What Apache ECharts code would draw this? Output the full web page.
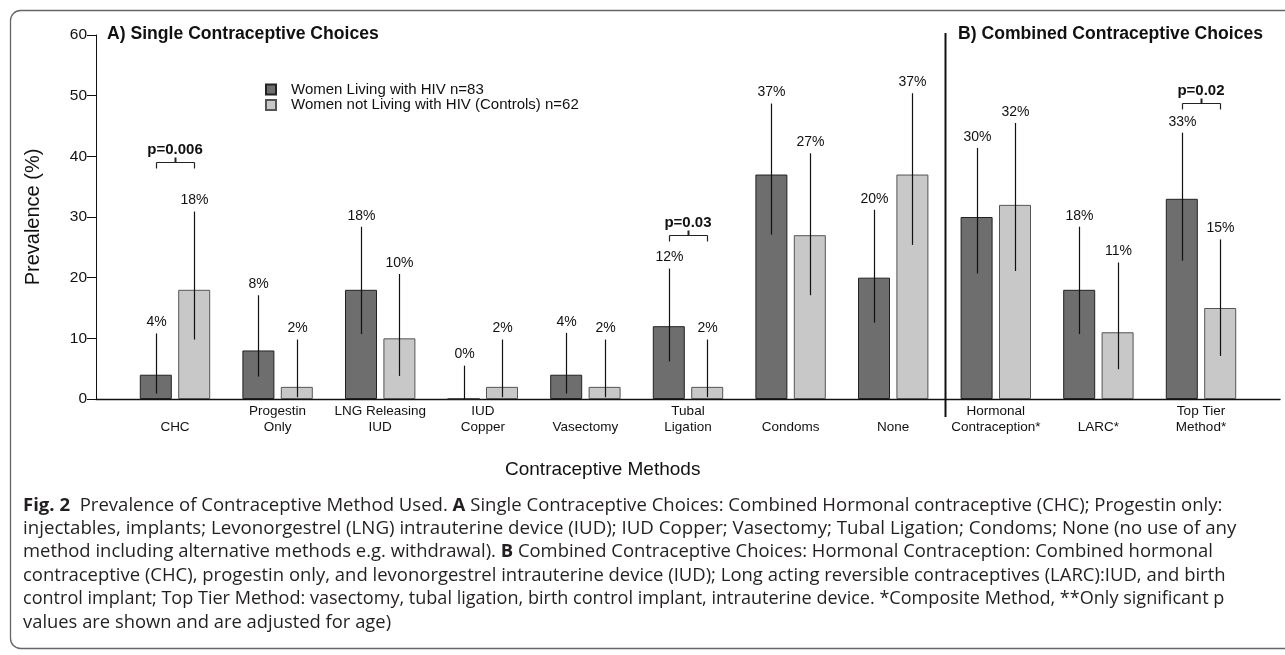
<!DOCTYPE html>
<html><head><meta charset="utf-8">
<script src="https://cdn.jsdelivr.net/npm/echarts@6/dist/echarts.min.js"></script>
<style>html,body{margin:0;padding:0;background:#fff}#c{width:1285px;height:655px}</style>
</head><body><div id="c"></div>
<script>
// ---------------- data ----------------
const categories = ['CHC', 'Progestin\nOnly', 'LNG Releasing\nIUD', 'IUD\nCopper', 'Vasectomy', 'Tubal\nLigation',
  'Condoms', 'None', 'Hormonal\nContraception*', 'LARC*', 'Top Tier\nMethod*'];
const hivName = 'Women Living with HIV n=83';
const ctrlName = 'Women not Living with HIV (Controls) n=62';
const hivValues = [4, 8, 18, 0, 4, 12, 37, 20, 30, 18, 33];
const hivLower  = [0.9, 3.7, 10.7, 0, 0.9, 6.2, 27.1, 12.6, 20.7, 10.7, 22.8];
const hivUpper  = [10.8, 17.1, 28.4, 5.5, 10.9, 21.5, 48.7, 31.2, 41.4, 28.4, 43.9];
const ctrlValues = [18, 2, 10, 2, 2, 2, 27, 37, 32, 11, 15];
const ctrlLower  = [9.8, 0.3, 3.8, 0.3, 0.3, 0.3, 17.1, 25.4, 21.1, 4.9, 7.1];
const ctrlUpper  = [30.9, 9.8, 20.6, 9.8, 9.8, 9.8, 40.5, 50.4, 45.5, 22.5, 26.3];
const yTicks = [0, 10, 20, 30, 40, 50, 60];
const pCategories = [0, 5, 10];
const pLabels = ['p=0.006', 'p=0.03', 'p=0.02'];
const pLevels = [39.0, 27.0, 48.8];
const panelSplit = [7, 8]; // divider between these categories
const panelTitles = ['A) Single Contraceptive Choices', 'B) Combined Contraceptive Choices'];
const xTitle = 'Contraceptive Methods';
const yTitle = 'Prevalence (%)';
const captionLines = [
  '{b|Fig. 2}  Prevalence of Contraceptive Method Used. {b|A} Single Contraceptive Choices: Combined Hormonal contraceptive (CHC); Progestin only:',
  'injectables, implants; Levonorgestrel (LNG) intrauterine device (IUD); IUD Copper; Vasectomy; Tubal Ligation; Condoms; None (no use of any',
  'method including alternative methods e.g. withdrawal). {b|B} Combined Contraceptive Choices: Hormonal Contraception: Combined hormonal',
  'contraceptive (CHC), progestin only, and levonorgestrel intrauterine device (IUD); Long acting reversible contraceptives (LARC):IUD, and birth',
  'control implant; Top Tier Method: vasectomy, tubal ligation, birth control implant, intrauterine device. *Composite Method, **Only significant p',
  'values are shown and are adjusted for age)'
];

// ---------------- style ----------------
const FONT = '"Liberation Sans", Arial, Helvetica, sans-serif';
const CAP_FONT = '"Open Sans", "Noto Sans", sans-serif';
const CAP_SCALE = [1.06, 1.068, 1.053, 1.056, 1.032, 1.05];
const CAP_TOP = 494, CAP_LH = 23.4;
const BAR_W = 32, BAR_GAP = 0.2;
const HALF = BAR_W * (1 + BAR_GAP) / 2;
const DARK = '#6e6e6e', LIGHT = '#c8c8c8';

const chart = echarts.init(document.getElementById('c'), null, {renderer: 'canvas'});

function errRender(offset) {
  return function (params, api) {
    const i = api.value(0);
    const lo = api.coord([i, api.value(1)]);
    const hi = api.coord([i, api.value(2)]);
    const x = Math.round(lo[0] + offset) + 0.5;
    return {
      type: 'group',
      children: [
        {type: 'line', shape: {x1: x, y1: lo[1], x2: x, y2: hi[1]}, style: {stroke: '#111', lineWidth: 1.2}},
        {type: 'text', style: {text: api.value(3) + '%', x: x, y: hi[1] - 11, align: 'center', verticalAlign: 'middle',
          fontSize: 14, fontFamily: FONT, fill: '#111'}}
      ]
    };
  };
}

const captionGraphics = captionLines.map((t, k) => ({
  type: 'text', x: 23, y: CAP_TOP + k * CAP_LH, scaleX: CAP_SCALE[k], silent: true,
  style: {text: t, x: 0, y: 0, fontSize: 17.5, fontFamily: CAP_FONT, lineHeight: CAP_LH, fill: '#231f20',
    rich: {b: {fontWeight: 'bold', fontSize: 17.5, fontFamily: CAP_FONT, lineHeight: CAP_LH}}}
}));

const option = {
  animation: false,
  backgroundColor: '#fff',
  textStyle: {fontFamily: FONT},
  title: [
    {text: panelTitles[0], left: 107, top: 25, textStyle: {fontSize: 17.6, fontWeight: 'bold', color: '#111', fontFamily: FONT}, padding: 0},
    {text: panelTitles[1], left: 958, top: 25, textStyle: {fontSize: 17.6, fontWeight: 'bold', color: '#111', fontFamily: FONT}, padding: 0},
    {text: xTitle, left: 505, top: 460, textStyle: {fontSize: 19, fontWeight: 'normal', color: '#111', fontFamily: FONT}, padding: 0}
  ],
  legend: {
    orient: 'vertical', left: 265, top: 82, padding: 0, itemGap: 0.5, itemWidth: 10, itemHeight: 10, icon: 'rect',
    data: [hivName, ctrlName],
    textStyle: {fontSize: 15, color: '#111', fontFamily: FONT, lineHeight: 14, padding: [0, 0, 0, 10]}
  },
  grid: [
    {left: 123.7, right: 1285 - 1252.3, top: 35, bottom: 256},
    {left: 96, right: 5, top: 35, bottom: 256}
  ],
  xAxis: [
    {type: 'category', gridIndex: 0, data: categories,
      axisLine: {show: false}, axisTick: {show: false}, splitLine: {show: false},
      axisLabel: {interval: 0, fontSize: 13.5, color: '#111', fontFamily: FONT, verticalAlign: 'bottom', lineHeight: 16, margin: 36}},
    {type: 'value', gridIndex: 1, min: 0, max: 1,
      axisLine: {show: true, lineStyle: {color: '#111', width: 1.4}}, axisTick: {show: false},
      axisLabel: {show: false}, splitLine: {show: false}}
  ],
  yAxis: [
    {type: 'value', gridIndex: 0, min: yTicks[0], max: yTicks[yTicks.length - 1], interval: yTicks[1] - yTicks[0], show: false},
    {type: 'value', gridIndex: 1, min: yTicks[0], max: yTicks[yTicks.length - 1], interval: yTicks[1] - yTicks[0],
      axisLine: {show: true, lineStyle: {color: '#111', width: 1}},
      axisTick: {show: true, length: 9, lineStyle: {color: '#111'}},
      axisLabel: {fontSize: 15.5, color: '#111', margin: 9, fontFamily: FONT},
      splitLine: {show: false},
      name: yTitle, nameLocation: 'middle', nameGap: 53,
      nameTextStyle: {fontSize: 20, color: '#111', fontFamily: FONT}}
  ],
  series: [
    {name: hivName, type: 'bar', xAxisIndex: 0, yAxisIndex: 0, data: hivValues, barWidth: BAR_W, barGap: (BAR_GAP * 100) + '%',
      itemStyle: {color: DARK, borderColor: '#222', borderWidth: 1}},
    {name: ctrlName, type: 'bar', xAxisIndex: 0, yAxisIndex: 0, data: ctrlValues, barWidth: BAR_W, barGap: (BAR_GAP * 100) + '%',
      itemStyle: {color: LIGHT, borderColor: '#555', borderWidth: 1}},
    {type: 'custom', xAxisIndex: 0, yAxisIndex: 0, z: 5, encode: {x: 0, y: [1, 2]},
      data: categories.map((c, i) => [i, hivLower[i], hivUpper[i], hivValues[i]]), renderItem: errRender(-HALF)},
    {type: 'custom', xAxisIndex: 0, yAxisIndex: 0, z: 5, encode: {x: 0, y: [1, 2]},
      data: categories.map((c, i) => [i, ctrlLower[i], ctrlUpper[i], ctrlValues[i]]), renderItem: errRender(HALF)},
    {type: 'custom', xAxisIndex: 0, yAxisIndex: 0, z: 5, encode: {x: 0, y: 1},
      data: pCategories.map((c, k) => [c, pLevels[k], k]),
      renderItem: function (params, api) {
        const i = api.value(0);
        const p = api.coord([i, api.value(1)]);
        const y = Math.round(p[1]) + 0.5;
        const x1 = Math.round(p[0] - HALF) + 0.5, x2 = Math.round(p[0] + HALF) + 0.5;
        const xm = Math.round(p[0]) + 0.5;
        const s = {stroke: '#222', lineWidth: 1.2};
        return {type: 'group', children: [
          {type: 'line', shape: {x1: x1, y1: y, x2: x2, y2: y}, style: s},
          {type: 'line', shape: {x1: x1, y1: y, x2: x1, y2: y + 6}, style: s},
          {type: 'line', shape: {x1: x2, y1: y, x2: x2, y2: y + 6}, style: s},
          {type: 'line', shape: {x1: xm, y1: y, x2: xm, y2: y - 5}, style: {stroke: '#222', lineWidth: 2}},
          {type: 'text', style: {text: pLabels[api.value(2)], x: p[0], y: y - 12.5, align: 'center', verticalAlign: 'middle',
            fontSize: 15, fontWeight: 'bold', fontFamily: FONT, fill: '#111'}}
        ]};
      }},
    {type: 'custom', xAxisIndex: 0, yAxisIndex: 0, z: 5, encode: {x: 0, y: 1},
      data: [[panelSplit[0], yTicks[yTicks.length - 1], panelSplit[1]]],
      renderItem: function (params, api) {
        const a = api.coord([api.value(0), api.value(1)]);
        const b = api.coord([api.value(2), 0]);
        const x = Math.round((a[0] + b[0]) / 2) + 0.5;
        return {type: 'line', shape: {x1: x, y1: a[1] - 2, x2: x, y2: b[1] + 18}, style: {stroke: '#111', lineWidth: 2}};
      }}
  ],
  graphic: [
    {type: 'rect', shape: {x: 10.5, y: 10.5, width: 1300, height: 638, r: 10}, style: {fill: 'none', stroke: '#666', lineWidth: 1.3}, silent: true, z: -10}
  ].concat(captionGraphics)
};
chart.setOption(option);
</script>
</body></html>
